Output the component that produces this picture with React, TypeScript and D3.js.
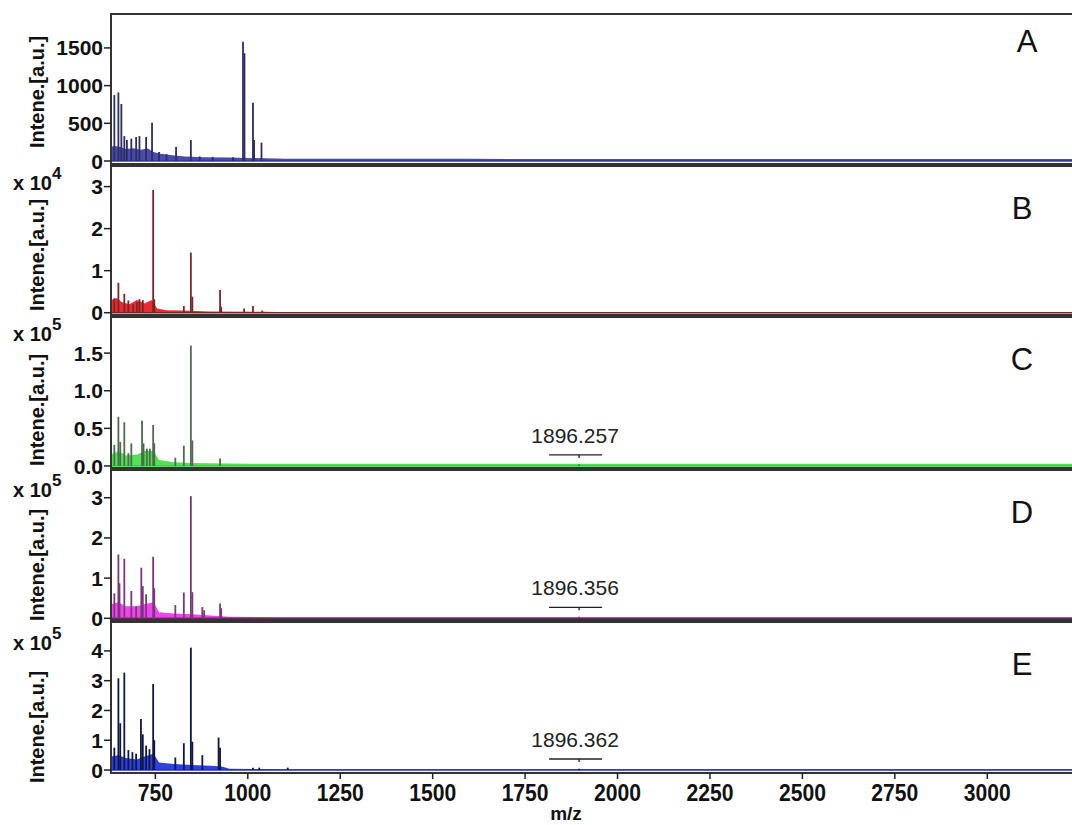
import React, { useEffect } from "react";
import * as d3 from "d3";

// ---------- data ----------
const MZ_DOMAIN = [630, 3240];
const X_TICKS = [750, 1000, 1250, 1500, 1750, 2000, 2250, 2500, 2750, 3000];
const PANEL_LABELS = ["A", "B", "C", "D", "E"];
const EXPONENTS = [null, 4, 5, 5, 5];

const Y_TICKS_A = [0, 500, 1000, 1500];
const Y_TICKS_B = [0, 1, 2, 3];
const Y_TICKS_C = [0, 0.5, 1.0, 1.5];
const Y_TICKS_D = [0, 1, 2, 3];
const Y_TICKS_E = [0, 1, 2, 3, 4];
const Y_TICK_DECIMALS = [0, 0, 1, 0, 0];
const Y_DOMAINS = [
  [-40, 1950],
  [-0.055, 3.49],
  [-0.027, 1.98],
  [-0.042, 3.69],
  [-0.1, 4.97],
];

// peaks (m/z, intensity)
const PEAKS_A_MZ = [639, 650, 658, 666, 673, 685, 698, 707, 725, 741, 806, 846, 987, 991, 1014, 1017, 1037, 760, 780, 870, 905, 960];
const PEAKS_A_I = [875, 910, 756, 330, 280, 296, 318, 330, 318, 508, 186, 278, 1582, 1430, 773, 280, 243, 120, 90, 60, 55, 50];

const PEAKS_B_MZ = [639, 650, 666, 677, 707, 716, 744, 747, 827, 846, 850, 925, 928, 990, 1014, 1039, 700, 690];
const PEAKS_B_I = [0.34, 0.71, 0.45, 0.29, 0.32, 0.3, 2.92, 0.32, 0.16, 1.43, 0.38, 0.54, 0.14, 0.1, 0.16, 0.05, 0.25, 0.2];

const PEAKS_C_MZ = [639, 650, 655, 666, 677, 685, 714, 718, 727, 735, 744, 747, 804, 827, 846, 850, 925, 1896];
const PEAKS_C_I = [0.28, 0.655, 0.32, 0.58, 0.17, 0.3, 0.6, 0.3, 0.23, 0.23, 0.545, 0.3, 0.11, 0.27, 1.6, 0.34, 0.1, 0.02];

const PEAKS_D_MZ = [639, 650, 653, 666, 685, 698, 712, 716, 725, 744, 747, 804, 827, 846, 850, 877, 882, 925, 928, 1896];
const PEAKS_D_I = [0.62, 1.59, 0.87, 1.48, 0.68, 0.3, 1.26, 0.8, 0.6, 1.53, 0.75, 0.33, 0.64, 3.04, 0.65, 0.28, 0.2, 0.37, 0.25, 0.04];

const PEAKS_E_MZ = [639, 650, 655, 666, 677, 688, 698, 711, 716, 725, 734, 744, 747, 804, 827, 846, 850, 877, 921, 925, 1014, 1031, 1108, 1896];
const PEAKS_E_I = [0.75, 3.08, 1.57, 3.27, 0.67, 0.6, 0.55, 1.71, 1.2, 0.82, 0.7, 2.89, 1.0, 0.42, 0.9, 4.11, 0.95, 0.5, 1.09, 0.75, 0.08, 0.08, 0.08, 0.04];

// dense low-level signal envelopes (m/z, height)
const BAND_A_MZ = [630, 640, 655, 670, 690, 710, 730, 745, 760, 790, 830, 880, 950, 1000, 1050, 1100, 1600, 2200, 2800, 3240];
const BAND_A_H = [190, 200, 185, 160, 170, 150, 165, 120, 100, 80, 60, 50, 45, 40, 35, 30, 28, 26, 26, 26];
const BAND_B_MZ = [630, 645, 660, 680, 700, 720, 740, 755, 780, 820, 900, 1050, 1100, 3240];
const BAND_B_H = [0.3, 0.35, 0.25, 0.2, 0.3, 0.22, 0.3, 0.1, 0.06, 0.05, 0.03, 0.02, 0.012, 0.012];
const BAND_C_MZ = [630, 650, 670, 700, 720, 745, 760, 800, 850, 900, 1000, 2000, 3240];
const BAND_C_H = [0.15, 0.2, 0.14, 0.15, 0.2, 0.2, 0.08, 0.05, 0.04, 0.035, 0.03, 0.03, 0.03];
const BAND_D_MZ = [630, 650, 670, 700, 720, 745, 760, 800, 850, 880, 950, 1100, 3240];
const BAND_D_H = [0.35, 0.4, 0.3, 0.3, 0.35, 0.4, 0.15, 0.12, 0.1, 0.08, 0.04, 0.025, 0.025];
const BAND_E_MZ = [630, 650, 670, 700, 720, 745, 760, 800, 850, 900, 930, 950, 1100, 3240];
const BAND_E_H = [0.45, 0.5, 0.4, 0.35, 0.45, 0.55, 0.25, 0.2, 0.17, 0.14, 0.12, 0.04, 0.03, 0.03];

const ANNOT_MZ = 1896;
const ANNOT_LABELS = [null, null, "1896.257", "1896.356", "1896.362"];

// ---------- styling / layout ----------
const PANEL_TOPS = [14, 166, 317, 470, 622];
const PANEL_BOTTOMS = [164, 315, 468, 620, 773];
const PEAK_COLORS = ["#2b2d63", "#7a2626", "#4d6b4d", "#7a3878", "#0f1840"];
const BAND_COLORS = ["#3636a0", "#e8141b", "#3ee03e", "#ee30ee", "#1a2be0"];
const BASE_COLORS = ["#3a3a90", "#7a2626", "#3cc83c", "#6a2a5a", "#2030c0"];
const LABEL_Y_CENTER = [92, 255, 410, 565, 727];
const EXP_BASELINE = [0, 190, 341, 497, 650];

const PEAKS_MZ = [PEAKS_A_MZ, PEAKS_B_MZ, PEAKS_C_MZ, PEAKS_D_MZ, PEAKS_E_MZ];
const PEAKS_I = [PEAKS_A_I, PEAKS_B_I, PEAKS_C_I, PEAKS_D_I, PEAKS_E_I];
const BANDS_MZ = [BAND_A_MZ, BAND_B_MZ, BAND_C_MZ, BAND_D_MZ, BAND_E_MZ];
const BANDS_H = [BAND_A_H, BAND_B_H, BAND_C_H, BAND_D_H, BAND_E_H];
const Y_TICKS = [Y_TICKS_A, Y_TICKS_B, Y_TICKS_C, Y_TICKS_D, Y_TICKS_E];

const W = 1072;
const H = 825;
const LEFT = 111;
const RIGHT = 1076;
const FONT = "'Liberation Sans', Arial, Helvetica, sans-serif";

export default function App() {
  useEffect(() => {
    document.body.style.margin = "0";
  }, []);

  const x = d3.scaleLinear().domain(MZ_DOMAIN).range([LEFT, RIGHT]);

  return (
    <svg width={W} height={H} style={{ display: "block", background: "#fff" }} fontFamily={FONT}>
      {PANEL_LABELS.map((lab, i) => {
        const top = PANEL_TOPS[i];
        const bottom = PANEL_BOTTOMS[i];
        const y = d3.scaleLinear().domain(Y_DOMAINS[i]).range([bottom, top]);
        const y0 = y(0);
        const area = d3
          .area<number>()
          .x((_, k) => x(BANDS_MZ[i][k]))
          .y0(y0)
          .y1((h) => y(h));
        const dec = Y_TICK_DECIMALS[i];
        return (
          <g key={lab}>
            <defs>
              <clipPath id={`clip${i}`}>
                <rect x={LEFT} y={top} width={RIGHT - LEFT} height={bottom - top} />
              </clipPath>
            </defs>
            <g clipPath={`url(#clip${i})`}>
              <path d={area(BANDS_H[i]) || ""} fill={BAND_COLORS[i]} opacity={0.9} />
              <line x1={LEFT} x2={RIGHT} y1={y0} y2={y0} stroke={BASE_COLORS[i]} strokeWidth={1.6} />
              {PEAKS_MZ[i].map((m, k) => (
                <line
                  key={k}
                  x1={x(m)}
                  x2={x(m)}
                  y1={y0}
                  y2={y(PEAKS_I[i][k])}
                  stroke={PEAK_COLORS[i]}
                  strokeWidth={1.8}
                />
              ))}
            </g>
            <rect x={LEFT} y={top} width={RIGHT - LEFT} height={bottom - top} fill="none" stroke="#333" strokeWidth={2} />
            {Y_TICKS[i].map((t) => (
              <g key={t}>
                <line x1={LEFT - 7} x2={LEFT} y1={y(t)} y2={y(t)} stroke="#222" strokeWidth={1.5} />
                <text x={LEFT - 8} y={y(t)} dy="0.36em" textAnchor="end" fontSize={21} fontWeight="bold" fill="#111">
                  {t.toFixed(dec)}
                </text>
              </g>
            ))}
            <text
              transform={`translate(37,${LABEL_Y_CENTER[i]}) rotate(-90)`}
              textAnchor="middle"
              dy="0.35em"
              fontSize={20}
              fontWeight="bold"
              fill="#111"
            >
              Intene.[a.u.]
            </text>
            {EXPONENTS[i] !== null && (
              <text x={13} y={EXP_BASELINE[i]} fontSize={20} fontWeight="bold" fill="#111">
                x 10
                <tspan dy={-11} fontSize={17}>
                  {EXPONENTS[i]}
                </tspan>
              </text>
            )}
            <text x={i === 0 ? 1027 : 1022} y={top + (i === 0 ? 38 : 53)} textAnchor="middle" fontSize={31} fill="#111">
              {lab}
            </text>
            {ANNOT_LABELS[i] && (
              <g>
                <text x={x(ANNOT_MZ) - 4} y={y0 - 23} textAnchor="middle" fontSize={21} fill="#222">
                  {ANNOT_LABELS[i]}
                </text>
                <line x1={x(ANNOT_MZ) - 30} x2={x(ANNOT_MZ) + 23} y1={y0 - 11} y2={y0 - 11} stroke="#222" strokeWidth={1.3} />
                <line x1={x(ANNOT_MZ)} x2={x(ANNOT_MZ)} y1={y0 - 11} y2={y0 - 8} stroke="#222" strokeWidth={1.3} />
              </g>
            )}
          </g>
        );
      })}
      {X_TICKS.map((t) => (
        <g key={t}>
          <line x1={x(t)} x2={x(t)} y1={PANEL_BOTTOMS[4]} y2={PANEL_BOTTOMS[4] + 6} stroke="#222" strokeWidth={1.5} />
          <text
            transform={`translate(${x(t)},801) scale(0.88,1)`}
            textAnchor="middle"
            fontSize={24}
            fontWeight="bold"
            fill="#111"
          >
            {t}
          </text>
        </g>
      ))}
      <text x={566} y={820} textAnchor="middle" fontSize={19} fontWeight="bold" fill="#111">
        m/z
      </text>
    </svg>
  );
}
